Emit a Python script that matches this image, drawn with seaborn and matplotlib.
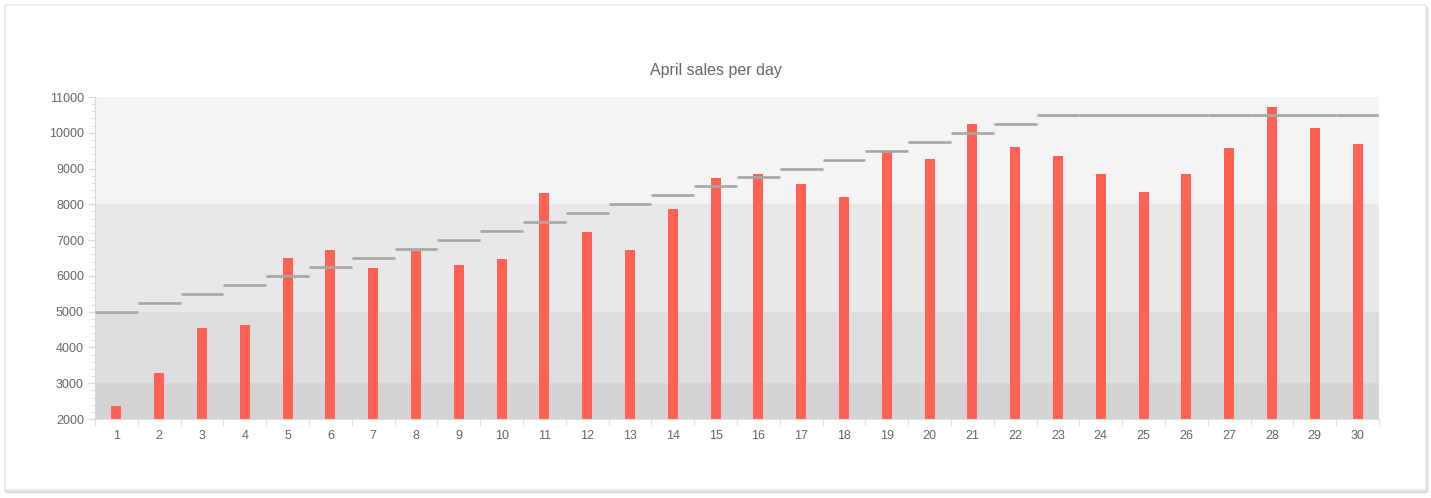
import matplotlib
matplotlib.use("Agg")
import matplotlib.pyplot as plt
import seaborn as sns
import numpy as np
import pandas as pd
from matplotlib.patches import FancyBboxPatch
from matplotlib.ticker import MultipleLocator, FixedLocator

days = [str(d) for d in range(1, 31)]
sales = [2360, 3290, 4550, 4630, 6500, 6720, 6220, 6700, 6300, 6470,
         8320, 7230, 6730, 7870, 8740, 8850, 8570, 8200, 9490, 9270,
         10250, 9600, 9350, 8850, 8340, 8850, 9580, 10720, 10130, 9690]
targets = [5000, 5250, 5500, 5750, 6000, 6250, 6500, 6750, 7000, 7250,
           7500, 7750, 8000, 8250, 8500, 8750, 9000, 9250, 9500, 9750,
           10000, 10250, 10500, 10500, 10500, 10500, 10500, 10500, 10500, 10500]
band_edges = [2000, 3000, 5000, 8000, 11000]
band_colors = ["#d3d3d3", "#dddddd", "#e8e8e8", "#f4f4f4"]
title = "April sales per day"

sns.set_theme(style="white")
plt.rcParams["font.family"] = ["Liberation Sans", "DejaVu Sans"]

fig = plt.figure(figsize=(14.31, 4.98), dpi=100)
fig.patch.set_facecolor("white")
# outer card border
shadow = FancyBboxPatch((6 / 1431, 6 / 498), 1421 / 1431, 484 / 498,
                        boxstyle="round,pad=0,rounding_size=0.002",
                        transform=fig.transFigure, facecolor="none",
                        edgecolor="#dcdcdc", linewidth=2.0, zorder=-3)
fig.patches.append(shadow)
card = FancyBboxPatch((5 / 1431, 8 / 498), 1421 / 1431, 485 / 498,
                      boxstyle="round,pad=0,rounding_size=0.002",
                      transform=fig.transFigure, facecolor="white",
                      edgecolor="#e6e6e6", linewidth=1.0, zorder=-2)
fig.patches.append(card)

ax = fig.add_axes([95 / 1431, 1 - 419 / 498, (1379 - 95) / 1431, (419 - 97) / 498])
ax.set_zorder(1)
ax.set_facecolor("white")

for lo, hi, c in zip(band_edges[:-1], band_edges[1:], band_colors):
    ax.axhspan(lo, hi, color=c, zorder=0, linewidth=0)

df = pd.DataFrame({"day": days, "sales": sales})
sns.barplot(data=df, x="day", y="sales", color="#ff6155", saturation=1,
            width=0.23, ax=ax, zorder=2, linewidth=0, edgecolor="none")

for i, t in enumerate(targets):
    ax.hlines(t, i - 0.5, i + 0.5, color="#a6a6a6", linewidth=1.9, zorder=3)

ax.set_xlim(-0.5, len(days) - 0.5)
ax.set_ylim(band_edges[0], band_edges[-1])
ax.set_xlabel("")
ax.set_ylabel("")
fig.text(0.5, 1 - 70 / 498, title, color="#666666", fontsize=11.5,
         ha="center", va="center")

ax.yaxis.set_major_locator(MultipleLocator(1000))
ax.yaxis.set_minor_locator(MultipleLocator(200))
ax.tick_params(axis="y", which="major", length=5, width=0.8, color="#d8d8d8",
               labelcolor="#666666", labelsize=9, pad=3, left=True)
ax.tick_params(axis="y", which="minor", length=3, width=0.8, color="#e0e0e0", left=True)

ax.xaxis.set_minor_locator(FixedLocator(np.arange(-0.5, len(days), 1.0)))
ax.tick_params(axis="x", which="major", length=0, labelcolor="#666666",
               labelsize=9, pad=8)
ax.tick_params(axis="x", which="minor", length=5, width=0.8, color="#e0e0e0", bottom=True)

for s in ["top", "right"]:
    ax.spines[s].set_visible(False)
ax.spines["left"].set_color("#d8d8d8")
ax.spines["left"].set_linewidth(0.8)
ax.spines["bottom"].set_color("#e0e0e0")
ax.spines["bottom"].set_linewidth(0.8)

fig.savefig("out.png", dpi=100, facecolor="white")
